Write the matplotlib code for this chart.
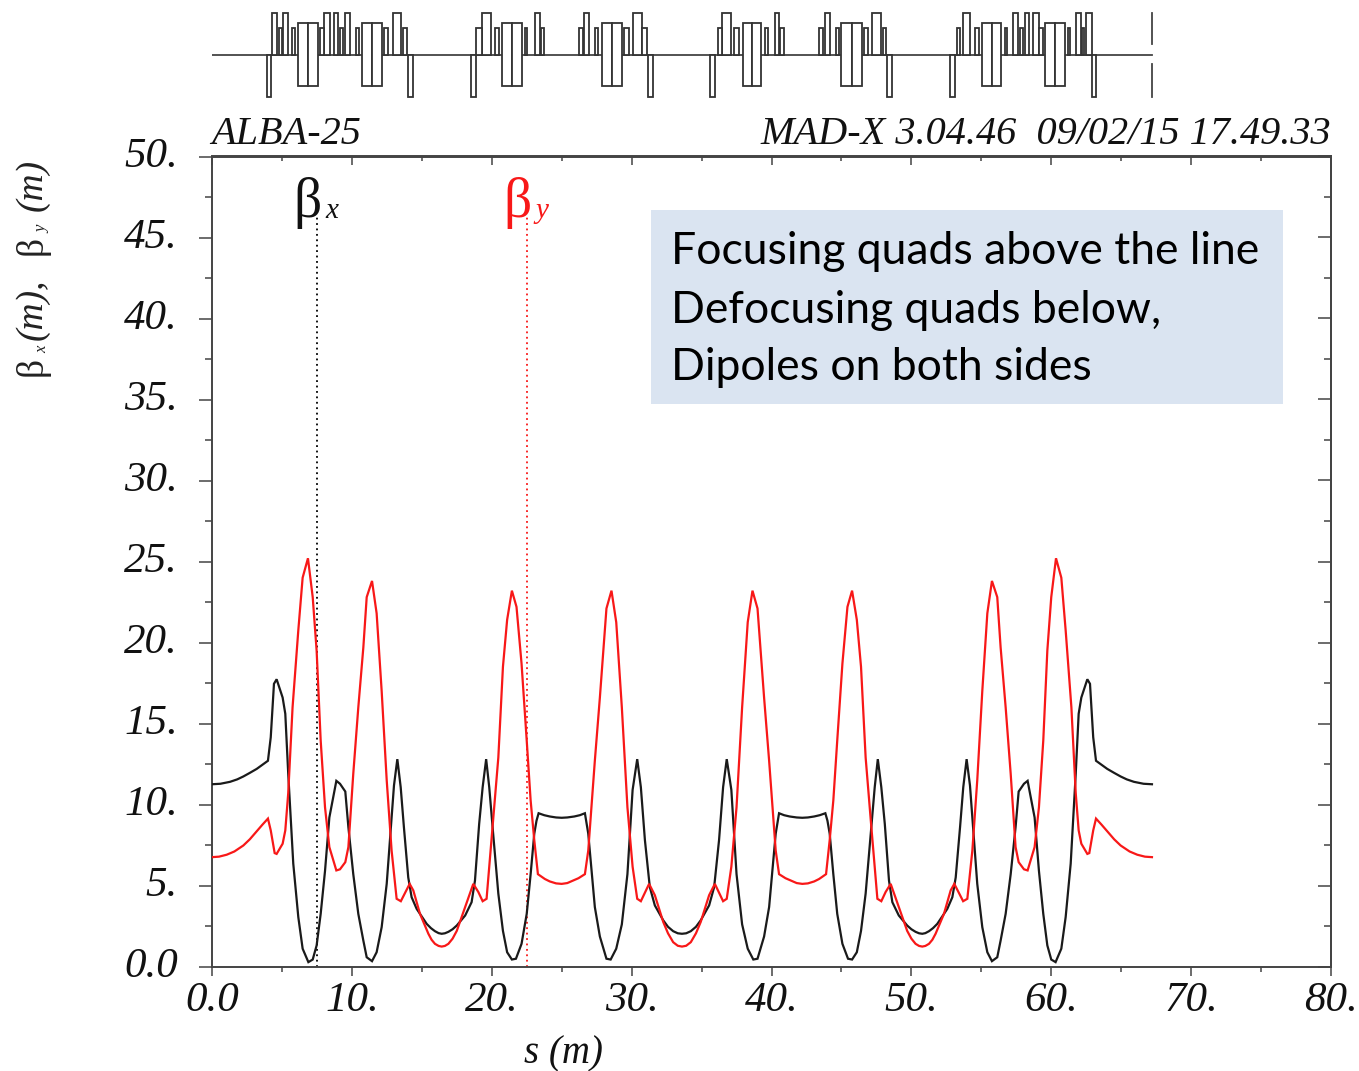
import matplotlib
matplotlib.use("Agg")
import matplotlib.pyplot as plt
from matplotlib.patches import Rectangle
from matplotlib.ticker import MultipleLocator, FixedFormatter, FixedLocator, NullFormatter
from matplotlib.transforms import ScaledTranslation

W, H = 1359, 1071
AX_L, AX_R, AX_T, AX_B = 212, 1331, 156.5, 966.5

s_x = [0, 0.6, 1.29, 1.8, 2.24, 2.7, 3.2, 3.6, 4.0, 4.2, 4.43, 4.62, 5.05, 5.24, 5.45, 5.81, 6.17, 6.48, 6.89, 7.2, 7.48, 7.77, 8.08, 8.39, 8.89, 9.15, 9.53, 9.75, 10.1, 10.46, 10.82, 11.06, 11.44, 11.77, 12.13, 12.49, 12.84, 13.01, 13.25, 13.49, 13.72, 14.03, 14.27, 14.63, 15.35, 15.65, 15.94, 16.2, 16.42, 16.65, 16.9, 17.2, 17.5, 18.1, 18.56, 18.8, 19.1, 19.35, 19.6, 19.82, 20.1, 20.47, 20.8, 21.1, 21.44, 21.73, 22.13, 22.5, 22.78, 23.04, 23.2, 23.35, 23.75, 24.15, 24.6, 25.0, 25.4, 25.9, 26.3, 26.66, 26.9, 27.37, 27.73, 28.2, 28.5, 28.9, 29.3, 29.7, 30.07, 30.4, 30.66, 30.95, 31.3, 31.66, 32.26, 32.6, 32.97, 33.3, 33.6,
       33.9, 34.23, 34.6, 34.94, 35.54, 35.9, 36.25, 36.54, 36.8, 37.13, 37.5, 37.9, 38.3, 38.7, 39.0, 39.47, 39.83, 40.3, 40.54, 40.9, 41.3, 41.8, 42.2, 42.6, 43.05, 43.45, 43.85, 44.0, 44.16, 44.42, 44.7, 45.07, 45.47, 45.76, 46.1, 46.4, 46.73, 47.1, 47.38, 47.6, 47.85, 48.1, 48.4, 48.64, 49.1, 49.7, 50.0, 50.3, 50.55, 50.78, 51.0, 51.26, 51.55, 51.85, 52.57, 52.93, 53.17, 53.48, 53.71, 53.95, 54.19, 54.36, 54.71, 55.07, 55.43, 55.76, 56.14, 56.38, 56.74, 57.1, 57.45, 57.67, 58.05, 58.31, 58.81, 59.12, 59.43, 59.72, 60.0, 60.31, 60.72, 61.03, 61.39, 61.75, 61.96, 62.15, 62.58, 62.77, 63.0, 63.2, 63.6, 64.0, 64.5, 64.96, 65.4, 65.91, 66.6, 67.2]
beta_x = [11.25, 11.28, 11.4, 11.55, 11.73, 11.95, 12.2, 12.45, 12.7, 14.15, 17.45, 17.73, 16.6, 15.6, 11.9, 6.35, 3.05, 1.1, 0.27, 0.43, 1.3, 3.25, 5.9, 9.2, 11.46, 11.28, 10.8, 8.6, 5.7, 3.25, 1.6, 0.57, 0.33, 0.88, 2.43, 5.1, 9.2, 11.17, 12.8, 11.07, 8.6, 5.5, 4.28, 3.56, 2.63, 2.37, 2.18, 2.06, 2.02, 2.05, 2.14, 2.3, 2.53, 3.15, 3.97, 5.3, 8.8, 11.07, 12.8, 11.07, 8.2, 4.5, 2.2, 0.88, 0.43, 0.48, 1.4, 3.25, 5.7, 8.2, 9.0, 9.46, 9.34, 9.26, 9.2, 9.18, 9.2, 9.26, 9.34, 9.46, 8.2, 3.67, 1.85, 0.48, 0.43, 1.1, 2.6, 5.7, 10.9, 12.8, 11.07, 7.8, 4.9, 3.77, 2.85, 2.45, 2.18, 2.05, 2.02,
          2.05, 2.18, 2.45, 2.85, 3.77, 4.9, 7.8, 11.07, 12.8, 10.9, 5.7, 2.6, 1.1, 0.43, 0.48, 1.85, 3.67, 8.2, 9.46, 9.34, 9.26, 9.2, 9.18, 9.2, 9.26, 9.34, 9.46, 9.0, 8.2, 5.7, 3.25, 1.4, 0.48, 0.43, 0.88, 2.2, 4.5, 8.2, 11.07, 12.8, 11.07, 8.8, 5.3, 3.97, 3.15, 2.53, 2.3, 2.14, 2.05, 2.02, 2.06, 2.18, 2.37, 2.63, 3.56, 4.28, 5.5, 8.6, 11.07, 12.8, 11.17, 9.2, 5.1, 2.43, 0.88, 0.33, 0.57, 1.6, 3.25, 5.7, 8.6, 10.8, 11.28, 11.46, 9.2, 5.9, 3.25, 1.3, 0.43, 0.27, 1.1, 3.05, 6.35, 11.9, 15.6, 16.6, 17.73, 17.45, 14.15, 12.7, 12.45, 12.2, 11.95, 11.73, 11.55, 11.4, 11.28, 11.25]

s_y = [0, 0.5, 1.05, 1.6, 2.24, 2.7, 3.2, 3.6, 4.0, 4.2, 4.48, 4.62, 5.05, 5.24, 5.45, 5.76, 6.17, 6.48, 6.86, 7.2, 7.48, 7.77, 8.08, 8.39, 8.89, 9.15, 9.53, 9.75, 10.1, 10.46, 10.82, 11.06, 11.44, 11.77, 12.13, 12.49, 12.84, 13.2, 13.5, 14.13, 14.39, 14.87, 15.47, 15.7, 15.94, 16.2, 16.42, 16.65, 16.9, 17.2, 17.5, 18.1, 18.68, 19.04, 19.35, 19.63, 19.82, 20.1, 20.47, 20.8, 21.1, 21.44, 21.77, 22.13, 22.5, 22.78, 23.04, 23.3, 23.8, 24.15, 24.6, 25.0, 25.4, 25.8, 26.2, 26.66, 26.9, 27.37, 27.73, 28.2, 28.56, 28.9, 29.3, 29.7, 30.07, 30.4, 30.66, 31.25, 31.66, 32.26, 32.6, 32.97, 33.3, 33.6,
       33.9, 34.23, 34.6, 34.94, 35.54, 35.95, 36.54, 36.8, 37.13, 37.5, 37.9, 38.3, 38.64, 39.0, 39.47, 39.83, 40.3, 40.54, 41.0, 41.4, 41.8, 42.2, 42.6, 43.05, 43.4, 43.9, 44.16, 44.42, 44.7, 45.07, 45.43, 45.76, 46.1, 46.4, 46.73, 47.1, 47.38, 47.57, 47.85, 48.16, 48.52, 49.1, 49.7, 50.0, 50.3, 50.55, 50.78, 51.0, 51.26, 51.5, 51.73, 52.33, 52.81, 53.07, 53.7, 54.0, 54.36, 54.71, 55.07, 55.43, 55.76, 56.14, 56.38, 56.74, 57.1, 57.45, 57.67, 58.05, 58.31, 58.81, 59.12, 59.43, 59.72, 60.0, 60.34, 60.72, 61.03, 61.44, 61.75, 61.96, 62.15, 62.58, 62.72, 63.0, 63.2, 63.6, 64.0, 64.5, 64.96, 65.6, 66.15, 66.7, 67.2]
beta_y = [6.75, 6.78, 6.9, 7.1, 7.47, 7.85, 8.35, 8.75, 9.13, 8.4, 7.0, 6.95, 7.58, 8.4, 10.7, 16, 20.75, 24.0, 25.2, 22.8, 19.5, 13.95, 9.83, 7.37, 5.93, 6.0, 6.44, 7.37, 11.9, 16, 19.7, 22.8, 23.8, 21.8, 17, 11.5, 7.16, 4.18, 4.03, 5.1, 4.7, 3.25, 2.02, 1.65, 1.4, 1.27, 1.23, 1.27, 1.4, 1.72, 2.2, 3.67, 5.1, 4.6, 4.03, 4.18, 6.16, 9.0, 12.9, 18.5, 21.4, 23.2, 22.2, 18.7, 13.95, 10.25, 7.8, 5.7, 5.4, 5.25, 5.13, 5.1, 5.15, 5.3, 5.45, 5.7, 7.16, 12.7, 16.6, 22.1, 23.2, 21.25, 16, 9.83, 6.16, 4.18, 4.03, 5.1, 4.4, 2.75, 2.05, 1.5, 1.28, 1.23,
          1.28, 1.5, 2.05, 2.75, 4.4, 5.1, 4.03, 4.18, 6.16, 9.83, 16, 21.25, 23.2, 22.1, 16.6, 12.7, 7.16, 5.7, 5.45, 5.3, 5.15, 5.1, 5.13, 5.25, 5.4, 5.7, 7.8, 10.25, 13.95, 18.7, 22.2, 23.2, 21.4, 18.5, 12.9, 9.0, 6.16, 4.18, 4.03, 4.6, 5.1, 3.67, 2.2, 1.72, 1.4, 1.27, 1.23, 1.27, 1.4, 1.65, 2.02, 3.25, 4.7, 5.1, 4.03, 4.18, 7.16, 11.5, 17, 21.8, 23.8, 22.8, 19.7, 16, 11.9, 7.37, 6.44, 6.0, 5.93, 7.37, 9.83, 13.95, 19.5, 22.8, 25.2, 24.0, 20.75, 16, 10.7, 8.4, 7.58, 6.95, 7.0, 8.4, 9.13, 8.75, 8.35, 7.85, 7.47, 7.1, 6.9, 6.78, 6.75]

xtick_labels = ["0.0", "10.", "20.", "30.", "40.", "50.", "60.", "70.", "80."]
ytick_labels = ["0.0", "5.", "10.", "15.", "20.", "25.", "30.", "35.", "40.", "45.", "50."]

# lattice elements: (start, end) along s
quad_f_long = [(4.26, 4.62), (5.05, 5.41), (8.03, 8.41), (8.72, 9.0), (9.53, 9.89), (12.91, 13.49),
               (19.3, 19.94), (23.09, 23.45), (26.57, 26.92), (30.07, 30.71),
               (36.43, 37.1), (40.22, 40.55), (43.82, 44.15), (47.2, 47.84),
               (53.66, 54.2), (57.25, 57.59), (58.14, 58.42), (58.73, 59.09), (61.74, 62.1), (62.52, 62.88)]
quad_f_short = [(4.77, 5.0), (5.74, 5.91), (7.74, 8.0), (9.15, 9.39), (10.3, 10.48), (12.32, 12.56), (13.63, 13.96),
                (18.89, 19.28), (20.2, 20.54), (22.37, 22.54), (23.49, 23.73),
                (26.26, 26.54), (27.38, 27.62), (29.45, 29.78), (30.76, 31.07),
                (36.14, 36.43), (37.34, 37.65), (39.53, 39.77), (40.6, 40.86),
                (43.41, 43.65), (44.6, 44.84), (46.6, 46.9), (47.99, 48.22),
                (53.27, 53.51), (54.56, 54.8), (56.66, 56.87), (57.76, 58.0), (59.14, 59.38),
                (61.2, 61.37), (62.2, 62.37)]
quad_d = [(3.96, 4.22), (14.03, 14.37), (18.49, 18.85), (31.16, 31.5), (35.62, 35.98),
          (48.27, 48.63), (52.77, 53.13), (62.93, 63.17)]
dipoles = [(6.17, 6.89), (6.89, 7.6), (10.75, 11.46), (11.46, 12.18), (20.7, 21.42), (21.42, 22.13),
           (27.88, 28.57), (28.57, 29.28), (37.93, 38.6), (38.6, 39.27), (45.0, 45.72), (45.72, 46.44),
           (55.06, 55.73), (55.73, 56.4), (59.54, 60.26), (60.26, 60.97)]
S_END = 67.2
S_MARK_X, S_MARK_Y = 7.5, 22.5

notes = ["Focusing quads above the line", "Defocusing quads below,", "Dipoles on both sides"]

SERIF = "Liberation Serif"
INK = "#444444"
fig = plt.figure(figsize=(W / 100, H / 100), dpi=100, facecolor="white")


def rect(l, t, r, b):
    return [l / W, 1 - b / H, (r - l) / W, (b - t) / H]


def ft(x, y, txt, **kw):
    kw.setdefault("family", SERIF)
    kw.setdefault("va", "center")
    return fig.text(x / W, 1 - y / H, txt, **kw)


ax = fig.add_axes(rect(AX_L, AX_T, AX_R, AX_B))
ax.set_xlim(0, 80)
ax.set_ylim(0, 50)
ax.plot(s_x, beta_x, color="#1a1a1a", lw=1.6, solid_joinstyle="miter", zorder=3)
ax.plot(s_y, beta_y, color="#f81818", lw=1.6, solid_joinstyle="miter", zorder=4)
ax.plot([S_MARK_X, S_MARK_X], [0, 46.4], color="black", lw=1.3, ls=(0, (1, 2)), zorder=2)
ax.plot([S_MARK_Y, S_MARK_Y], [0, 46.4], color="#f81818", lw=1.3, ls=(0, (1, 2)), zorder=2)

for sp in ax.spines.values():
    sp.set_linewidth(1.4)
    sp.set_color(INK)
ax.xaxis.set_major_locator(FixedLocator(list(range(0, 81, 10))))
ax.xaxis.set_major_formatter(FixedFormatter(xtick_labels))
ax.xaxis.set_minor_locator(MultipleLocator(5))
ax.yaxis.set_major_locator(FixedLocator(list(range(0, 51, 5))))
ax.yaxis.set_major_formatter(FixedFormatter(ytick_labels))
ax.yaxis.set_minor_locator(MultipleLocator(2.5))
ax.tick_params(axis="x", which="major", length=6.5, width=1.1, color=INK, direction="out", pad=4)
ax.tick_params(axis="x", which="minor", length=3.5, width=1.1, color=INK, direction="out")
ax.tick_params(axis="y", which="major", length=9.5, width=1.1, color=INK, direction="out", pad=15)
ax.tick_params(axis="y", which="minor", length=5, width=1.1, color=INK, direction="out")
fig.canvas.draw()
for lab in ax.get_xticklabels() + ax.get_yticklabels():
    lab.set_family(SERIF)
    lab.set_style("italic")
    lab.set_fontsize(31)
    lab.set_color("#111111")
up = ScaledTranslation(0, 4 / 100, fig.dpi_scale_trans)
for lab in ax.get_yticklabels():
    lab.set_transform(lab.get_transform() + up)

# inward ticks on the top and right edges
top = ax.secondary_xaxis("top")
top.xaxis.set_major_locator(MultipleLocator(10))
top.xaxis.set_minor_locator(MultipleLocator(5))
top.xaxis.set_major_formatter(NullFormatter())
top.tick_params(axis="x", which="major", length=6.5, width=1.1, color=INK, direction="in")
top.tick_params(axis="x", which="minor", length=3.5, width=1.1, color=INK, direction="in")
top.spines["top"].set_linewidth(1.4)
top.spines["top"].set_color(INK)
right = ax.secondary_yaxis("right")
right.yaxis.set_major_locator(MultipleLocator(5))
right.yaxis.set_minor_locator(MultipleLocator(2.5))
right.yaxis.set_major_formatter(NullFormatter())
right.tick_params(axis="y", which="major", length=9.5, width=1.1, color=INK, direction="in")
right.tick_params(axis="y", which="minor", length=5, width=1.1, color=INK, direction="in")
right.spines["right"].set_linewidth(1.4)
right.spines["right"].set_color(INK)

# note box
bx = fig.add_axes(rect(651, 210, 1283, 404), zorder=5)
bx.set_facecolor("#dae4f1")
bx.set_xticks([])
bx.set_yticks([])
for sp in bx.spines.values():
    sp.set_visible(False)
for t, y in zip(notes, [252, 310, 368]):
    ft(671, y, t, family="Lato", fontsize=32, color="#000000", zorder=10)

# lattice strip, same s scale as the main axes, vertical unit = pixels
lat = fig.add_axes(rect(AX_L, 0, AX_R, 110))
lat.set_xlim(0, 80)
lat.set_ylim(110, 0)
lat.axis("off")
BASE = 54.7
lat.plot([0, S_END], [BASE, BASE], color=INK, lw=1.3, zorder=1)
for elems, t_el, b_el in [(quad_f_long, 12.7, BASE), (quad_f_short, 28, BASE),
                          (quad_d, BASE, 96.7), (dipoles, 22.7, 85.7)]:
    for a, b in elems:
        lat.add_patch(Rectangle((a, t_el), b - a, b_el - t_el, fc="white", ec="#333333", lw=1.3, zorder=2))
lat.plot([S_END, S_END], [12.7, 44], color=INK, lw=1.3)
lat.plot([S_END, S_END], [64, 96.7], color=INK, lw=1.3)

# header
ft(211, 134, "ALBA-25", style="italic", fontsize=29, color="#111111")
ft(1331, 134, "MAD-X 3.04.46  09/02/15 17.49.33", style="italic", fontsize=29, ha="right", color="#111111")
ft(563, 1054, "s (m)", style="italic", fontsize=28, ha="center", color="#111111")

# line labels
ft(293, 203, "β", fontsize=40, color="#111111")
ft(325, 211, "x", style="italic", fontsize=21, color="#111111")
ft(503, 203, "β", fontsize=40, color="#f81818")
ft(535, 211, "y", style="italic", fontsize=21, color="#f81818")

# rotated y label
for y, t, st in [(366, "β", "normal"), (309, "(m),", "italic"), (245, "β", "normal"), (185, "(m)", "italic")]:
    ft(32, y, t, style=st, fontsize=27, rotation=90, ha="center", color="#222222")
ft(42, 349, "x", style="italic", fontsize=12, rotation=90, ha="center", color="#222222")
ft(42, 229, "y", style="italic", fontsize=12, rotation=90, ha="center", color="#222222")

fig.savefig("out.png", dpi=100, facecolor="white")
